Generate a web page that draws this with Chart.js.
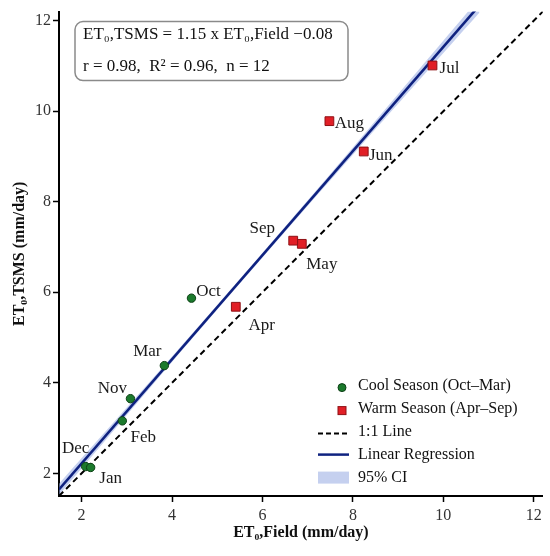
<!DOCTYPE html>
<html>
<head>
<meta charset="utf-8">
<script src="https://cdn.jsdelivr.net/npm/chart.js@4.4.1/dist/chart.umd.min.js"></script>
<style>
  html, body { margin: 0; padding: 0; background: #fff; }
  #wrap { width: 550px; height: 556px; }
</style>
</head>
<body>
<div id="wrap"><canvas id="c" width="550" height="556"></canvas></div>
<script>
// ---- data ----
const coolMonths = ['Oct', 'Nov', 'Dec', 'Jan', 'Feb', 'Mar'];
const coolField  = [4.43, 3.08, 2.09, 2.20, 2.90, 3.83];
const coolTSMS   = [5.87, 3.65, 2.15, 2.13, 3.16, 4.38];

const warmMonths = ['Apr', 'May', 'Jun', 'Jul', 'Aug', 'Sep'];
const warmField  = [5.41, 6.87, 8.24, 9.76, 7.48, 6.68];
const warmTSMS   = [5.68, 7.07, 9.11, 11.01, 9.78, 7.14];

const oneX = [1.5, 12.2];
const oneY = [1.5, 12.2];

const regX = [1.5, 10.8];
const regY = [1.645, 12.34];

const ciX     = [1.5, 4.0, 6.0, 8.0, 10.8];
const ciUpper = [1.77, 4.58, 6.87, 9.20, 12.50];
const ciLower = [1.52, 4.46, 6.77, 9.04, 12.18];

const tickValues = [2, 4, 6, 8, 10, 12];
const axisMin = 1.5, axisMax = 12.2;

const eqLine1 = 'ET\u2080,TSMS = 1.15 x ET\u2080,Field \u22120.08';
const eqLine2 = 'r = 0.98,  R\u00B2 = 0.96,  n = 12';
const xTitle = 'ET\u2080,Field (mm/day)';
const yTitle = 'ET\u2080,TSMS (mm/day)';
const legendLabels = ['Cool Season (Oct\u2013Mar)', 'Warm Season (Apr\u2013Sep)', '1:1 Line', 'Linear Regression', '95% CI'];

// ---- styling / layout (not data) ----
const FONT = '"Liberation Serif", "DejaVu Serif", serif';
const GREEN = '#1b7a2c', GREEN_B = '#0c3f15';
const RED = '#e11f26', RED_B = '#8f1014';
const NAVY = '#0f2280';
const CI_FILL = 'rgba(150,170,225,0.55)';

// label offsets (px) relative to point centre
const labelOffsets = {
  Oct: [17, -7], Nov: [-18, -10], Dec: [-10, -18], Jan: [20, 11], Feb: [21, 17], Mar: [-17, -14],
  Apr: [26, 19], May: [20, 21], Jun: [17, 4], Jul: [17, 3], Aug: [20, 2], Sep: [-31, -12]
};

const toXY = (xs, ys) => xs.map((x, i) => ({x: x, y: ys[i]}));

const pointLabels = {
  id: 'pointLabels',
  afterDatasetsDraw(chart) {
    const ctx = chart.ctx;
    ctx.save();
    ctx.font = '17px ' + FONT;
    ctx.fillStyle = '#1a1a1a';
    ctx.textAlign = 'center';
    ctx.textBaseline = 'middle';
    [[0, coolMonths], [1, warmMonths]].forEach(([di, names]) => {
      const meta = chart.getDatasetMeta(di);
      meta.data.forEach((el, i) => {
        const off = labelOffsets[names[i]];
        ctx.fillText(names[i], el.x + off[0], el.y + off[1]);
      });
    });
    ctx.restore();
  }
};

const annotBox = {
  id: 'annotBox',
  afterDraw(chart) {
    const ctx = chart.ctx, ca = chart.chartArea;
    const bx = ca.left + 16, by = ca.top + 10, bw = 273, bh = 59, r = 8;
    ctx.save();
    ctx.beginPath();
    ctx.moveTo(bx + r, by);
    ctx.arcTo(bx + bw, by, bx + bw, by + bh, r);
    ctx.arcTo(bx + bw, by + bh, bx, by + bh, r);
    ctx.arcTo(bx, by + bh, bx, by, r);
    ctx.arcTo(bx, by, bx + bw, by, r);
    ctx.closePath();
    ctx.fillStyle = '#fff';
    ctx.fill();
    ctx.lineWidth = 1.5;
    ctx.strokeStyle = '#8a8a8a';
    ctx.stroke();
    ctx.fillStyle = '#111';
    ctx.font = '17px ' + FONT;
    ctx.textAlign = 'left';
    ctx.textBaseline = 'middle';
    ctx.fillText(eqLine1, bx + 8, by + 13);
    ctx.fillText(eqLine2, bx + 8, by + 45);

    // legend
    const lx = ca.left + 259, tx = ca.left + 299;
    const rows = [ca.top + 374, ca.top + 397, ca.top + 420, ca.top + 443, ca.top + 466];
    // cool
    ctx.beginPath();
    ctx.arc(ca.left + 283, rows[0] + 2, 4, 0, Math.PI * 2);
    ctx.fillStyle = GREEN; ctx.fill();
    ctx.lineWidth = 1; ctx.strokeStyle = GREEN_B; ctx.stroke();
    // warm
    ctx.fillStyle = RED;
    ctx.fillRect(ca.left + 279, rows[1] - 2, 8, 8);
    ctx.strokeStyle = RED_B; ctx.strokeRect(ca.left + 279, rows[1] - 2, 8, 8);
    // 1:1
    ctx.beginPath();
    ctx.setLineDash([5, 3]);
    ctx.lineWidth = 2; ctx.strokeStyle = '#000';
    ctx.moveTo(lx, rows[2] + 2); ctx.lineTo(lx + 31, rows[2] + 2); ctx.stroke();
    ctx.setLineDash([]);
    // regression
    ctx.beginPath();
    ctx.lineWidth = 2.5; ctx.strokeStyle = NAVY;
    ctx.moveTo(lx, rows[3]); ctx.lineTo(lx + 31, rows[3]); ctx.stroke();
    // CI
    ctx.fillStyle = CI_FILL;
    ctx.fillRect(lx, rows[4] - 6, 31, 12);
    // texts
    ctx.fillStyle = '#111';
    ctx.font = '16px ' + FONT;
    legendLabels.forEach((t, i) => ctx.fillText(t, tx, rows[i]));
    ctx.restore();
  }
};

new Chart(document.getElementById('c'), {
  type: 'scatter',
  data: {
    datasets: [
      { label: 'cool', data: toXY(coolField, coolTSMS), pointStyle: 'circle', pointRadius: 4.2,
        backgroundColor: GREEN, borderColor: GREEN_B, borderWidth: 1 },
      { label: 'warm', data: toXY(warmField, warmTSMS), pointStyle: 'rect', pointRadius: 6.2,
        backgroundColor: RED, borderColor: RED_B, borderWidth: 1 },
      { label: 'reg', type: 'line', data: toXY(regX, regY), borderColor: NAVY, borderWidth: 2.6,
        pointRadius: 0, fill: false, tension: 0 },
      { label: 'one', type: 'line', data: toXY(oneX, oneY), borderColor: '#000', borderWidth: 2,
        borderDash: [6, 4], pointRadius: 0, fill: false, tension: 0 },
      { label: 'ciU', type: 'line', data: toXY(ciX, ciUpper), borderWidth: 0, borderColor: 'rgba(0,0,0,0)',
        backgroundColor: CI_FILL, pointRadius: 0, fill: '+1', tension: 0.3 },
      { label: 'ciL', type: 'line', data: toXY(ciX, ciLower), borderWidth: 0, borderColor: 'rgba(0,0,0,0)',
        pointRadius: 0, fill: false, tension: 0.3 }
    ]
  },
  options: {
    responsive: false,
    animation: false,
    devicePixelRatio: 1,
    layout: { padding: { top: 6, right: 5, left: 0, bottom: 0 } },
    plugins: { legend: { display: false }, tooltip: { enabled: false } },
    scales: {
      x: {
        type: 'linear', min: axisMin, max: axisMax,
        afterBuildTicks: (s) => { s.ticks = tickValues.map(v => ({value: v})); },
        afterFit: (s) => { s.height = 60; },
        grid: { drawOnChartArea: false, drawTicks: true, tickLength: 6, tickColor: '#000', tickWidth: 1.5 },
        border: { display: true, color: '#000', width: 2 },
        ticks: { color: '#333', font: { family: FONT, size: 16 }, padding: 4, maxRotation: 0 },
        title: { display: true, text: xTitle, color: '#111', font: { family: FONT, size: 16, weight: 'bold' },
                 padding: { top: 0, bottom: 14 } }
      },
      y: {
        type: 'linear', min: axisMin, max: axisMax,
        afterBuildTicks: (s) => { s.ticks = tickValues.map(v => ({value: v})); },
        afterFit: (s) => { s.width = 59; },
        grid: { drawOnChartArea: false, drawTicks: true, tickLength: 6, tickColor: '#000', tickWidth: 1.5 },
        border: { display: true, color: '#000', width: 2 },
        ticks: { color: '#333', font: { family: FONT, size: 16 }, padding: 2 },
        title: { display: true, text: yTitle, color: '#111', font: { family: FONT, size: 16, weight: 'bold' },
                 padding: { top: 10, bottom: 0 } }
      }
    }
  },
  plugins: [pointLabels, annotBox]
});
</script>
</body>
</html>
